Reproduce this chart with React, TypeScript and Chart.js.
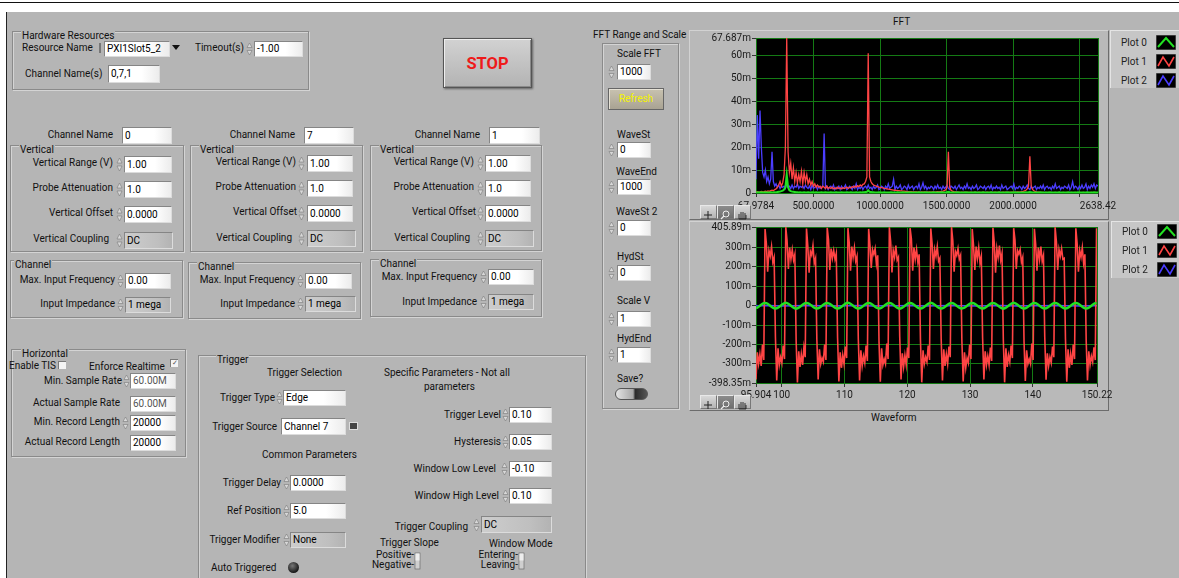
import React, { useEffect, useRef } from 'react';
import { Chart, registerables } from 'chart.js';

Chart.register(...registerables);

// ================= DATA =================
// FFT graph (x: frequency, f0 + i*df ; y: magnitude in milli-units)
const FFT_F0 = 67.9784;
const FFT_DF = 10.0408;
const FFT_X_TICKS = [67.9784, 500, 1000, 1500, 2000, 2500, 2638.42];
const FFT_X_LABELS = ['67.9784', '500.0000', '1000.0000', '1500.0000', '2000.0000', '', '2638.42'];
const FFT_Y_TICKS = [0, 10, 20, 30, 40, 50, 60, 67.687];
const FFT_Y_LABELS = ['0', '10m', '20m', '30m', '40m', '50m', '60m', '67.687m'];

// Plot 0 (green)
const FFT_PLOT0 = [
  0.3, 0.2, 0.3, 0.2, 0.3, 0.2, 0.2, 0.3, 0.2, 0.2,
  0.2, 0.3, 0.2, 0.2, 0.3, 0.2, 0.4, 0.5, 0.6, 0.8,
  1.0, 1.5, 2.5, 8, 2.5, 1.2, 0.8, 0.6, 0.5, 0.4,
  0.3, 0.3, 0.2, 0.3, 0.2, 0.2, 0.3, 0.2, 0.2, 0.3,
  0.2, 0.2, 0.3, 0.2, 0.2, 0.3, 0.2, 0.2, 0.2, 0.3,
  0.2, 0.2, 0.3, 0.2, 0.2, 0.2, 0.3, 0.2, 0.2, 0.2,
  0.3, 0.2, 0.2, 0.2, 0.3, 0.2, 0.2, 0.2, 0.3, 0.2,
  0.2, 0.3, 0.2, 0.2, 0.2, 0.3, 0.2, 0.2, 0.3, 0.2,
  0.3, 0.3, 0.4, 0.5, 1.2, 0.5, 0.4, 0.3, 0.3, 0.2,
  0.2, 0.2, 0.3, 0.2, 0.2, 0.2, 0.3, 0.2, 0.2, 0.2,
  0.2, 0.3, 0.2, 0.2, 0.2, 0.2, 0.3, 0.2, 0.2, 0.2,
  0.3, 0.2, 0.2, 0.2, 0.2, 0.3, 0.2, 0.2, 0.2, 0.2,
  0.2, 0.2, 0.3, 0.2, 0.2, 0.2, 0.2, 0.3, 0.2, 0.2,
  0.2, 0.2, 0.2, 0.3, 0.2, 0.2, 0.2, 0.2, 0.2, 0.3,
  0.2, 0.2, 0.2, 0.3, 0.5, 0.3, 0.2, 0.2, 0.2, 0.2,
  0.2, 0.3, 0.2, 0.2, 0.2, 0.2, 0.2, 0.3, 0.2, 0.2,
  0.2, 0.2, 0.2, 0.2, 0.3, 0.2, 0.2, 0.2, 0.2, 0.2,
  0.3, 0.2, 0.2, 0.2, 0.2, 0.2, 0.3, 0.2, 0.2, 0.2,
  0.2, 0.2, 0.3, 0.2, 0.2, 0.2, 0.2, 0.2, 0.3, 0.2,
  0.2, 0.2, 0.2, 0.2, 0.3, 0.2, 0.2, 0.2, 0.2, 0.2,
  0.2, 0.2, 0.3, 0.2, 0.3, 0.4, 0.3, 0.2, 0.2, 0.2,
  0.2, 0.2, 0.2, 0.3, 0.2, 0.2, 0.2, 0.2, 0.2, 0.2,
  0.3, 0.2, 0.2, 0.2, 0.2, 0.2, 0.2, 0.3, 0.2, 0.2,
  0.2, 0.2, 0.2, 0.2, 0.3, 0.2, 0.2, 0.2, 0.2, 0.2,
  0.2, 0.3, 0.2, 0.2, 0.2, 0.2, 0.2, 0.2, 0.3, 0.2,
  0.2, 0.2, 0.2, 0.3, 0.2, 0.2, 0.2,
];

// Plot 1 (red)
const FFT_PLOT1 = [
  0.5, 0.6, 0.4, 0.5, 0.7, 0.5, 0.6, 0.8, 0.6, 0.9,
  0.7, 1.0, 1.2, 1.0, 1.5, 1.8, 2.5, 3.5, 5, 3,
  4.5, 8, 20, 67.687, 18, 9, 13, 6, 11, 5,
  9, 4.5, 8, 5, 9.5, 4, 9, 5, 8, 4,
  6, 3.5, 5, 3, 4, 2.5, 3.5, 2.5, 3, 2,
  3, 2.5, 2, 3, 2, 2.5, 2, 2.5, 1.8, 2.2,
  1.8, 2.5, 2, 2.2, 1.8, 2.4, 2, 2.2, 2.6, 2,
  2.4, 2.2, 2.8, 2.4, 3, 2.6, 3.2, 2.8, 3.5, 3,
  3.8, 4, 5, 7, 61, 7, 5, 4, 3.5, 3.2,
  3, 2.8, 2.6, 2.5, 2.3, 2.2, 2, 1.9, 1.8, 1.7,
  1.6, 1.5, 1.4, 1.3, 1.2, 1.1, 1.0, 1.0, 0.9, 0.9,
  0.8, 0.8, 0.7, 0.7, 0.6, 0.6, 0.6, 0.5, 0.5, 0.5,
  0.5, 0.4, 0.5, 0.4, 0.5, 0.4, 0.5, 0.4, 0.5, 0.4,
  0.5, 0.4, 0.5, 0.5, 0.4, 0.5, 0.6, 0.5, 0.6, 0.7,
  0.8, 1.0, 1.4, 2.5, 18, 2.5, 1.2, 0.8, 0.6, 0.5,
  0.5, 0.4, 0.4, 0.3, 0.4, 0.3, 0.4, 0.3, 0.4, 0.3,
  0.3, 0.4, 0.3, 0.3, 0.4, 0.3, 0.3, 0.4, 0.3, 0.3,
  0.4, 0.3, 0.3, 0.4, 0.3, 0.3, 0.4, 0.3, 0.3, 0.4,
  0.3, 0.3, 0.4, 0.3, 0.3, 0.4, 0.3, 0.4, 0.3, 0.4,
  0.3, 0.4, 0.4, 0.3, 0.4, 0.4, 0.5, 0.4, 0.5, 0.6,
  0.7, 0.9, 1.2, 1.8, 3, 16, 3, 1.6, 1.0, 0.7,
  0.5, 0.4, 0.4, 0.3, 0.3, 0.3, 0.2, 0.3, 0.2, 0.3,
  0.2, 0.3, 0.2, 0.2, 0.3, 0.2, 0.2, 0.3, 0.2, 0.2,
  0.3, 0.2, 0.2, 0.3, 0.2, 0.2, 0.3, 0.2, 0.2, 0.3,
  0.2, 0.2, 0.3, 0.2, 0.2, 0.3, 0.2, 0.2, 0.3, 0.2,
  0.2, 0.3, 0.2, 0.2, 0.3, 0.2, 0.2,
];

// Plot 2 (blue)
const FFT_PLOT2 = [
  6, 34, 15, 36, 20, 9, 7, 10, 5, 7,
  4, 6, 18, 5, 3, 4, 2.5, 3.5, 2, 3,
  2.5, 3, 2, 4, 2.5, 3, 2, 3.5, 2, 3,
  2.5, 4, 2, 3, 2.5, 3, 2, 3.5, 2.5, 2,
  3, 1.5, 3.5, 2, 2.5, 3, 1.5, 3, 2, 2.5,
  3, 26, 2, 3, 1.5, 2.5, 3, 2, 3.5, 1.5,
  2.5, 2, 3, 1.5, 3, 2, 2.5, 3.5, 1.5, 2,
  3, 2.5, 1.5, 3, 2, 4, 1.5, 2.5, 2, 3,
  1.5, 2.5, 3, 2, 3.5, 2, 2.5, 1.5, 3, 2,
  2.5, 3.5, 1.5, 2, 3, 2.5, 1.5, 3, 2, 4,
  2, 2.5, 3, 6, 1.5, 3, 2, 2.5, 3.5, 1.5,
  2, 3, 2.5, 1.5, 3.5, 2, 2.5, 3, 1.5, 2.5,
  3, 2, 4, 1.5, 2.5, 4.5, 2, 3, 1.5, 2.5,
  2, 3, 2.5, 1.5, 3, 2, 3.5, 2, 2.5, 1.5,
  3, 2, 2.5, 3.5, 2, 1.5, 3, 2.5, 2, 3,
  1.5, 2.5, 3.5, 2, 2.5, 1.5, 3, 2, 4, 2,
  2.5, 1.5, 3, 2, 2.5, 3.5, 1.5, 2, 3, 2.5,
  2, 3, 1.5, 2.5, 3, 2, 3.5, 1.5, 2.5, 2,
  3, 2, 2.5, 1.5, 3.5, 2, 2.5, 3, 1.5, 2,
  2.5, 3, 2, 4, 1.5, 2.5, 2, 3, 2.5, 1.5,
  3, 2, 2.5, 3.5, 2, 1.5, 3, 2, 2.5, 3,
  1.5, 2.5, 2, 3, 2, 3.5, 1.5, 2.5, 3, 2,
  2.5, 1.5, 3, 2, 4, 2, 2.5, 3, 1.5, 2.5,
  2, 3, 2.5, 2, 3.5, 1.5, 2.5, 5, 2, 3,
  2.5, 1.5, 3, 2, 3.5, 2, 2.5, 4, 1.5, 3,
  2, 3.5, 2.5, 4, 2, 3.5, 3,
];

// Waveform graph (x: time, t0 + i*dt ; y in milli-units)
const WAVE_T0 = 95.904;
const WAVE_DT = 0.20625;
const WAVE_BLUE_DT = 2.0625;
const WAVE_X_TICKS = [95.904, 100, 110, 120, 130, 140, 150.22];
const WAVE_X_LABELS = ['95.904', '100', '110', '120', '130', '140', '150.22'];
const WAVE_Y_TICKS = [-398.35, -300, -200, -100, 0, 100, 200, 300, 405.89];
const WAVE_Y_LABELS = ['-398.35m', '-300m', '-200m', '-100m', '0', '100m', '200m', '300m', '405.89m'];

const WAVE_PLOT0 = [
  -13, -10, -5, 0, 5, 10, 13,
  14, 13, 10, 5, 0, -5, -10, -13, -14, -13, -10, -5, 0, 5, 10, 13,
  15, 13, 10, 5, 0, -5, -10, -13, -15, -13, -10, -5, 0, 5, 10, 13,
  14, 13, 10, 5, 1, -5, -10, -13, -14, -13, -10, -5, 0, 5, 10, 13,
  14, 12, 10, 5, 0, -5, -10, -13, -14, -13, -10, -5, 0, 5, 10, 14,
  15, 13, 10, 5, 0, -5, -10, -13, -14, -13, -10, -5, 0, 5, 10, 13,
  14, 13, 10, 5, 0, -5, -10, -12, -14, -13, -10, -5, 0, 5, 10, 13,
  14, 13, 10, 5, 0, -5, -10, -13, -15, -13, -10, -5, 0, 5, 10, 13,
  14, 13, 10, 5, 0, -5, -10, -13, -14, -13, -10, -5, 0, 5, 10, 13,
  15, 13, 10, 5, 0, -5, -10, -13, -14, -13, -10, -5, 0, 5, 10, 13,
  14, 13, 10, 5, 0, -5, -10, -13, -14, -12, -10, -5, 0, 5, 10, 13,
  14, 13, 10, 5, 0, -5, -10, -13, -14, -13, -10, -5, 0, 5, 10, 13,
  14, 13, 10, 5, 0, -5, -10, -13, -15, -13, -10, -5, 0, 5, 10, 13,
  15, 13, 10, 5, 0, -5, -10, -13, -14, -13, -10, -5, 0, 5, 10, 13,
  14, 13, 10, 5, 0, -5, -10, -13, -14, -13, -10, -5, 0, 5, 10, 13,
  14, 13, 10, 5, 0, -5, -10, -13, -14, -13, -10, -5, 0, 5, 10, 13,
  14, 13, 10, 5, 0, -5, -10, -13, -14, -13, -10, -5, 0, 5, 10, 13,
  14,
];

const WAVE_PLOT1 = [
  -380, -240, -300, -250, -310, -200, -280,
  395, 320, 175, 285, 255, 305, 225, 250, -160, -385, -220, -305, -265, -295, -205, -275,
  405, 335, 190, 300, 240, 290, 235, 265, -180, -395, -235, -315, -250, -305, -215, -265,
  398, 310, 170, 280, 260, 310, 220, 245, -175, -380, -225, -300, -270, -290, -200, -280,
  402, 340, 185, 295, 245, 285, 240, 270, -165, -390, -240, -320, -255, -300, -210, -270,
  400, 325, 180, 305, 250, 300, 230, 255, -170, -385, -230, -310, -260, -295, -205, -285,
  396, 315, 195, 290, 265, 295, 215, 260, -185, -392, -220, -305, -275, -300, -195, -275,
  404, 330, 172, 285, 250, 310, 235, 250, -160, -380, -245, -315, -255, -305, -215, -270,
  400, 345, 180, 300, 240, 290, 225, 265, -175, -395, -230, -300, -265, -290, -205, -280,
  398, 320, 190, 290, 255, 305, 230, 245, -170, -385, -225, -310, -250, -300, -210, -265,
  405, 335, 175, 280, 260, 295, 240, 260, -180, -390, -240, -320, -270, -295, -200, -275,
  395, 310, 185, 305, 245, 300, 220, 255, -165, -380, -235, -305, -260, -305, -215, -285,
  402, 325, 170, 295, 250, 310, 235, 270, -175, -395, -220, -315, -255, -290, -205, -270,
  400, 340, 190, 285, 265, 290, 225, 250, -185, -388, -230, -300, -275, -300, -195, -280,
  397, 315, 180, 300, 240, 305, 230, 260, -160, -382, -245, -310, -265, -295, -210, -265,
  404, 330, 185, 290, 255, 295, 240, 245, -170, -392, -225, -320, -250, -305, -200, -275,
  399, 320, 175, 285, 250, 300, 220, 265, -180, -385, -235, -305, -260, -290, -215, -280,
  400,
];

const WAVE_PLOT2 = [0, 1, -1, 0, 1, 0, -1, 0, 1, -1, 0, 0, 1, -1, 0, 1, 0, -1, 0, 1, -1, 0, 0, 1, 0, -1, 0, 1];

// ================= STYLE =================
const FONT = 'Roboto, "Liberation Sans", Arial, sans-serif';
const PANEL = '#b5b5b5';
const GRID = '#147a14';
const GREEN = '#22e022';
const RED = '#ff4444';
const BLUE = '#4b3dff';
const FS = 10;

const plotBackground = {
  id: 'plotBackground',
  beforeDraw(chart: any) {
    const { ctx, chartArea } = chart;
    ctx.save();
    ctx.fillStyle = '#000';
    ctx.fillRect(chartArea.left, chartArea.top, chartArea.right - chartArea.left, chartArea.bottom - chartArea.top);
    ctx.restore();
  },
};

function series(values: number[], x0: number, dx: number) {
  return values.map((v, i) => ({ x: x0 + i * dx, y: v }));
}

function xAxis(ticks: number[], labels: string[], height: number, pad: number) {
  return {
    type: 'linear',
    min: ticks[0],
    max: ticks[ticks.length - 1],
    afterBuildTicks: (s: any) => { s.ticks = ticks.map((v) => ({ value: v })); },
    afterFit: (s: any) => { s.height = height; },
    ticks: {
      autoSkip: false, maxRotation: 0, minRotation: 0, padding: pad, color: '#1a1a1a',
      font: { family: FONT, size: 10 },
      callback: (_v: any, i: number) => labels[i],
    },
    grid: { color: GRID, lineWidth: 1, tickColor: '#333', tickLength: 4 },
    border: { display: false },
  };
}

function yAxis(ticks: number[], labels: string[], width: number) {
  return {
    type: 'linear',
    min: ticks[0],
    max: ticks[ticks.length - 1],
    afterBuildTicks: (s: any) => { s.ticks = ticks.map((v) => ({ value: v })); },
    afterFit: (s: any) => { s.width = width; },
    ticks: {
      autoSkip: false, padding: 1, color: '#1a1a1a',
      font: { family: FONT, size: 10 },
      callback: (_v: any, i: number) => labels[i],
    },
    grid: { color: GRID, lineWidth: 1, tickColor: '#333', tickLength: 4 },
    border: { display: false },
  };
}

function lineDs(data: any[], color: string, width: number) {
  return { data, borderColor: color, borderWidth: width, pointRadius: 0, tension: 0, fill: false };
}

function baseOptions(padding: any, scales: any) {
  return {
    animation: false,
    responsive: false,
    devicePixelRatio: 1,
    events: [],
    layout: { padding },
    plugins: { legend: { display: false }, tooltip: { enabled: false } },
    scales,
  };
}

function ChartCanvas({ left, top, width, height, config }: any) {
  const ref = useRef<HTMLCanvasElement>(null);
  useEffect(() => {
    const chart = new Chart(ref.current as HTMLCanvasElement, config);
    return () => chart.destroy();
  }, []);
  return (
    <canvas ref={ref} width={width} height={height}
      style={{ position: 'absolute', left, top, width, height, zIndex: 2 }} />
  );
}

// ================= PANEL PARTS =================
const Txt = ({ x, xr, y, t, c = '#111', s = FS, w = 400, lh = 14, z = 1 }: any) => (
  <div style={{
    position: 'absolute', left: x, right: xr !== undefined ? 1179 - xr : undefined, top: y - lh / 2,
    height: lh, lineHeight: `${lh}px`, fontSize: s, color: c, fontWeight: w, whiteSpace: 'nowrap',
    fontFamily: FONT, zIndex: z, textAlign: xr !== undefined ? 'right' : 'left',
  }}>{t}</div>
);

const Spin = ({ x, y, h = 16 }: any) => (
  <svg style={{ position: 'absolute', left: x, top: y }} width={7} height={h}>
    <path d={`M1 ${h / 2 - 1.5} L3.5 2 L6 ${h / 2 - 1.5} Z`} fill="#d8d8d8" stroke="#7a7a7a" strokeWidth={0.6} />
    <path d={`M1 ${h / 2 + 1.5} L3.5 ${h - 2} L6 ${h / 2 + 1.5} Z`} fill="#d8d8d8" stroke="#7a7a7a" strokeWidth={0.6} />
  </svg>
);

const Box = ({ x, y, w = 48, h = 16, t, c = '#000', gray = false }: any) => (
  <div style={{
    position: 'absolute', left: x, top: y, width: w, height: h, boxSizing: 'border-box',
    background: gray ? 'linear-gradient(90deg,#cdcdcd,#bfbfbf 70%,#b3b3b3)' : 'linear-gradient(90deg,#ffffff 65%,#ececec)',
    borderTop: '1px solid #858585', borderLeft: '1px solid #858585',
    borderRight: '1px solid #dcdcdc', borderBottom: '1px solid #dcdcdc',
    fontSize: FS, lineHeight: `${h - 2}px`, paddingLeft: 2, color: c, whiteSpace: 'nowrap',
    overflow: 'hidden', fontFamily: FONT,
  }}>{t}</div>
);

const Frame = ({ x, y, w, h, label, lx = 9 }: any) => (
  <>
    <div style={{
      position: 'absolute', left: x, top: y, width: w, height: h, boxSizing: 'border-box',
      border: '1px solid #8a8a8a', boxShadow: 'inset 1px 1px 0 #d4d4d4, 1px 1px 0 #d4d4d4',
    }} />
    {label ? (
      <div style={{
        position: 'absolute', left: x + lx, top: y - 2, height: 13, lineHeight: '13px', fontSize: FS,
        color: '#111', background: PANEL, padding: '0 1px', fontFamily: FONT, whiteSpace: 'nowrap',
      }}>{label}</div>
    ) : null}
  </>
);

const Check = ({ x, y, on = false }: any) => (
  <div style={{
    position: 'absolute', left: x, top: y, width: 8, height: 8, boxSizing: 'border-box',
    background: '#f4f4f4', borderTop: '1px solid #7a7a7a', borderLeft: '1px solid #7a7a7a',
    fontSize: 7, lineHeight: '7px', color: '#555', textAlign: 'center', zIndex: 3,
  }}>{on ? '✓' : ''}</div>
);

const Switch = ({ x, y }: any) => (
  <svg style={{ position: 'absolute', left: x, top: y }} width={7} height={18}>
    <rect x={1} y={1} width={5} height={16} fill="#cfcfcf" stroke="#6a6a6a" strokeWidth={0.7} />
    <rect x={1.5} y={1.5} width={4} height={7} fill="#eeeeee" />
  </svg>
);

const Icon = ({ color, kind }: any) => (
  <svg width={20} height={15} style={{ display: 'block' }}>
    <rect x={0} y={0} width={20} height={15} fill="#000" stroke="#777" strokeWidth={1} />
    {kind === 0
      ? <polyline points="2,12 10,3 18,12" fill="none" stroke={color} strokeWidth={2} />
      : <polyline points="2,12 7,3 13,12 18,3" fill="none" stroke={color} strokeWidth={1.6} />}
  </svg>
);

const PlotLegend = ({ x, y, w, h, rows }: any) => (
  <div style={{
    position: 'absolute', left: x, top: y, width: w, height: h, background: '#c6c6c6', zIndex: 3,
    borderTop: '1px solid #e4e4e4', borderLeft: '1px solid #e4e4e4', boxSizing: 'border-box',
  }}>
    {[['Plot 0', GREEN, 0], ['Plot 1', RED, 1], ['Plot 2', BLUE, 2]].map((r: any, i: number) => (
      <div key={i} style={{ position: 'absolute', left: 0, top: rows[i], width: w, height: 15 }}>
        <div style={{ position: 'absolute', left: 10, top: 0, lineHeight: '15px', fontSize: FS, color: '#222', fontFamily: FONT }}>{r[0]}</div>
        <div style={{ position: 'absolute', left: 45, top: 0 }}><Icon color={r[1]} kind={r[2]} /></div>
      </div>
    ))}
  </div>
);

const palBtn = (bg: string) => ({
  width: 17, height: 14, boxSizing: 'border-box' as const, background: bg,
  borderTop: '1px solid #e8e8e8', borderLeft: '1px solid #e8e8e8', borderRight: '1px solid #777', borderBottom: '1px solid #777',
});

const Palette = ({ x, y }: any) => (
  <div style={{ position: 'absolute', left: x, top: y, display: 'flex', zIndex: 3, background: PANEL }}>
    <div style={palBtn('linear-gradient(#d8d8d8,#b4b4b4)')}>
      <svg width={15} height={12}><path d="M7 2 V10 M3 6 H11" stroke="#222" strokeWidth={1} /></svg>
    </div>
    <div style={palBtn('linear-gradient(#8c8c8c,#6e6e6e)')}>
      <svg width={15} height={12}><circle cx={8} cy={5} r={3} fill="none" stroke="#eee" strokeWidth={1} /><path d="M6 7 L3 10" stroke="#eee" strokeWidth={1.2} /></svg>
    </div>
    <div style={palBtn('linear-gradient(#d8d8d8,#b4b4b4)')}>
      <svg width={15} height={12}><path d="M4 10 V5 M6 10 V3 M8 10 V3 M10 10 V4 M4 10 H11 V6" stroke="#222" strokeWidth={0.9} fill="none" /></svg>
    </div>
  </div>
);

// ================= CHART CONFIGS =================
const fftConfig: any = {
  type: 'line',
  data: {
    datasets: [
      lineDs(series(FFT_PLOT0, FFT_F0, FFT_DF), GREEN, 2),
      lineDs(series(FFT_PLOT1, FFT_F0, FFT_DF), RED, 1.3),
      lineDs(series(FFT_PLOT2, FFT_F0, FFT_DF), BLUE, 1.3),
    ],
  },
  options: baseOptions({ left: 0, top: 10, right: 30, bottom: 0 }, {
    x: xAxis(FFT_X_TICKS, FFT_X_LABELS, 21, 3),
    y: yAxis(FFT_Y_TICKS, FFT_Y_LABELS, 68),
  }),
  plugins: [plotBackground],
};

const waveConfig: any = {
  type: 'line',
  data: {
    datasets: [
      lineDs(series(WAVE_PLOT0, WAVE_T0, WAVE_DT), GREEN, 2.4),
      lineDs(series(WAVE_PLOT1, WAVE_T0, WAVE_DT), RED, 1.6),
      lineDs(series(WAVE_PLOT2, WAVE_T0, WAVE_BLUE_DT), BLUE, 1.5),
    ],
  },
  options: baseOptions({ left: 0, top: 9, right: 31, bottom: 0 }, {
    x: xAxis(WAVE_X_TICKS, WAVE_X_LABELS, 19, 2),
    y: yAxis(WAVE_Y_TICKS, WAVE_Y_LABELS, 68),
  }),
  plugins: [plotBackground],
};

// ================= APP =================
export default function App() {
  return (
    <div style={{ position: 'absolute', left: 0, top: 0, width: 1179, height: 578, overflow: 'hidden', background: '#fff', fontFamily: FONT }}>
      <div style={{ position: 'absolute', left: 0, top: 2, width: 1179, height: 1, background: '#111' }} />
      <div style={{ position: 'absolute', left: 6, top: 12, width: 1, height: 566, background: '#222' }} />
      <div style={{ position: 'absolute', left: 7, top: 12, width: 1172, height: 566, background: PANEL }} />

      {/* Hardware resources */}
      <Frame x={12} y={31} w={297} h={59} label="Hardware Resources" />
      <Txt x={22} y={48} t="Resource Name" />
      <div style={{ position: 'absolute', left: 99, top: 43, width: 2, height: 10, background: '#777' }} />
      <Box x={104} y={41} w={66} h={16} t="PXI1Slot5_2" />
      <svg style={{ position: 'absolute', left: 172, top: 45 }} width={9} height={6}><path d="M0 0 H8 L4 5 Z" fill="#111" /></svg>
      <Txt xr={244} y={48} t="Timeout(s)" />
      <Spin x={246} y={41} />
      <Box x={254} y={41} w={49} h={16} t="-1.00" />
      <Txt x={25} y={74} t="Channel Name(s)" />
      <Box x={108} y={65} w={52} h={18} t="0,7,1" />

      {/* STOP */}
      <div style={{
        position: 'absolute', left: 443, top: 38, width: 89, height: 50, boxSizing: 'border-box',
        background: 'linear-gradient(#d2d2d2,#b3b3b3)', border: '1px solid #555',
        boxShadow: 'inset 1px 1px 0 #eee, inset -1px -1px 0 #8a8a8a, 1px 1px 2px rgba(0,0,0,0.45)',
        display: 'flex', alignItems: 'center', justifyContent: 'center',
        color: '#ee1a1a', fontWeight: 700, fontSize: 16.5, fontFamily: FONT,
      }}>STOP</div>

      {/* Column 1 */}
      <Txt xr={113} y={135} t="Channel Name" />
      <Box x={122} y={127} w={50} h={17} t="0" />
      <Frame x={10} y={145} w={174} h={107} label="Vertical" />
      <Txt xr={113} y={163} t="Vertical Range (V)" />
      <Spin x={116} y={156} h={17} />
      <Box x={124} y={156} w={48} h={17} t="1.00" />
      <Txt xr={113} y={188} t="Probe Attenuation" />
      <Spin x={116} y={181} h={17} />
      <Box x={124} y={181} w={48} h={17} t="1.0" />
      <Txt xr={113} y={213} t="Vertical Offset" />
      <Spin x={116} y={206} h={17} />
      <Box x={124} y={206} w={48} h={17} t="0.0000" />
      <Txt xr={109} y={239} t="Vertical Coupling" />
      <Spin x={116} y={232} h={17} />
      <Box x={124} y={232} w={49} h={17} t="DC" gray />
      <Frame x={10} y={260} w={173} h={58} label="Channel" lx={4} />
      <Txt xr={115} y={280} t="Max. Input Frequency" />
      <Spin x={117} y={273} />
      <Box x={125} y={273} w={46} h={16} t="0.00" />
      <Txt xr={115} y={304} t="Input Impedance" />
      <Spin x={117} y={297} />
      <Box x={125} y={297} w={46} h={16} t="1 mega" gray />

      {/* Column 2 */}
      <Txt xr={295} y={135} t="Channel Name" />
      <Box x={304} y={127} w={50} h={17} t="7" />
      <Frame x={190} y={145} w={173} h={107} label="Vertical" />
      <Txt xr={296} y={162} t="Vertical Range (V)" />
      <Spin x={298} y={155} h={17} />
      <Box x={307} y={155} w={46} h={17} t="1.00" />
      <Txt xr={296} y={187} t="Probe Attenuation" />
      <Spin x={298} y={180} h={17} />
      <Box x={307} y={180} w={46} h={17} t="1.0" />
      <Txt xr={297} y={212} t="Vertical Offset" />
      <Spin x={298} y={205} h={17} />
      <Box x={307} y={205} w={46} h={17} t="0.0000" />
      <Txt xr={292} y={238} t="Vertical Coupling" />
      <Spin x={298} y={230} h={17} />
      <Box x={307} y={230} w={49} h={17} t="DC" gray />
      <Frame x={188} y={262} w={173} h={57} label="Channel" />
      <Txt xr={295} y={280} t="Max. Input Frequency" />
      <Spin x={297} y={273} />
      <Box x={305} y={273} w={47} h={16} t="0.00" />
      <Txt xr={295} y={304} t="Input Impedance" />
      <Spin x={297} y={296} />
      <Box x={305} y={296} w={51} h={16} t="1 mega" gray />

      {/* Column 3 */}
      <Txt xr={480} y={135} t="Channel Name" />
      <Box x={489} y={127} w={51} h={17} t="1" />
      <Frame x={370} y={145} w={172} h={106} label="Vertical" />
      <Txt xr={474} y={162} t="Vertical Range (V)" />
      <Spin x={477} y={155} h={17} />
      <Box x={485} y={155} w={46} h={17} t="1.00" />
      <Txt xr={474} y={187} t="Probe Attenuation" />
      <Spin x={477} y={180} h={17} />
      <Box x={485} y={180} w={46} h={17} t="1.0" />
      <Txt xr={476} y={212} t="Vertical Offset" />
      <Spin x={477} y={205} h={17} />
      <Box x={485} y={205} w={46} h={17} t="0.0000" />
      <Txt xr={470} y={238} t="Vertical Coupling" />
      <Spin x={477} y={230} h={17} />
      <Box x={485} y={230} w={49} h={17} t="DC" gray />
      <Frame x={370} y={259} w={172} h={58} label="Channel" />
      <Txt xr={477} y={277} t="Max. Input Frequency" />
      <Spin x={480} y={269} />
      <Box x={488} y={269} w={46} h={16} t="0.00" />
      <Txt xr={477} y={302} t="Input Impedance" />
      <Spin x={480} y={294} />
      <Box x={488} y={294} w={46} h={16} t="1 mega" gray />

      {/* Horizontal */}
      <Frame x={11} y={349} w={175} h={108} label="Horizontal" lx={10} />
      <Txt x={9} y={366} t="Enable TIS" z={2} />
      <Check x={58} y={361} />
      <Txt x={89} y={367} t="Enforce Realtime" />
      <Check x={170} y={359} on />
      <Txt xr={122} y={381} t="Min. Sample Rate" />
      <Spin x={123} y={373} />
      <Box x={130} y={373} w={46} h={16} t="60.00M" c="#555" />
      <Txt xr={120} y={403} t="Actual Sample Rate" />
      <Box x={130} y={396} w={46} h={16} t="60.00M" c="#555" />
      <Txt xr={120} y={422} t="Min. Record Length" />
      <Spin x={122} y={415} />
      <Box x={130} y={415} w={46} h={16} t="20000" />
      <Txt xr={120} y={442} t="Actual Record Length" />
      <Box x={130} y={435} w={46} h={16} t="20000" />

      {/* Trigger */}
      <Frame x={198} y={355} w={388} h={240} label="Trigger" lx={18} />
      <Txt x={267} y={373} t="Trigger Selection" />
      <Txt x={384} y={373} t="Specific Parameters - Not all" />
      <Txt x={424} y={387} t="parameters" />
      <Txt xr={275} y={398} t="Trigger Type" />
      <Spin x={276} y={390} />
      <Box x={283} y={390} w={63} h={16} t="Edge" />
      <Txt xr={277} y={427} t="Trigger Source" />
      <Box x={281} y={418} w={65} h={17} t="Channel 7" />
      <div style={{ position: 'absolute', left: 349, top: 422, width: 7, height: 6, background: '#444', border: '1px solid #ddd' }} />
      <Txt x={262} y={455} t="Common Parameters" />
      <Txt xr={501} y={415} t="Trigger Level" />
      <Spin x={502} y={407} />
      <Box x={509} y={407} w={43} h={16} t="0.10" />
      <Txt xr={501} y={442} t="Hysteresis" />
      <Spin x={502} y={434} />
      <Box x={509} y={434} w={43} h={16} t="0.05" />
      <Txt xr={496} y={469} t="Window Low Level" />
      <Spin x={501} y={461} />
      <Box x={509} y={461} w={43} h={16} t="-0.10" />
      <Txt xr={499} y={496} t="Window High Level" />
      <Spin x={502} y={488} />
      <Box x={509} y={488} w={43} h={16} t="0.10" />
      <Txt xr={281} y={483} t="Trigger Delay" />
      <Spin x={283} y={475} />
      <Box x={290} y={475} w={56} h={16} t="0.0000" />
      <Txt xr={281} y={511} t="Ref Position" />
      <Spin x={283} y={503} />
      <Box x={290} y={503} w={56} h={16} t="5.0" />
      <Txt xr={468} y={527} t="Trigger Coupling" />
      <Spin x={473} y={517} />
      <Box x={481} y={516} w={71} h={17} t="DC" gray />
      <Txt xr={280} y={540} t="Trigger Modifier" />
      <Spin x={283} y={532} />
      <Box x={290} y={532} w={56} h={16} t="None" gray />
      <Txt x={380} y={543} t="Trigger Slope" />
      <Txt x={489} y={544} t="Window Mode" />
      <Txt xr={414} y={555} t="Positive-" lh={10} />
      <Txt xr={414} y={565} t="Negative-" lh={10} />
      <Switch x={414} y={552} />
      <Txt xr={518} y={555} t="Entering-" lh={10} />
      <Txt xr={518} y={565} t="Leaving-" lh={10} />
      <Switch x={518} y={552} />
      <Txt x={211} y={568} t="Auto Triggered" />
      <div style={{ position: 'absolute', left: 288, top: 562, width: 11, height: 11, borderRadius: 6, background: 'radial-gradient(circle at 40% 35%, #777, #1a1a1a 70%)' }} />

      {/* FFT Range and Scale */}
      <Txt x={593} y={35} t="FFT Range and Scale" />
      <Frame x={602} y={43} w={77} h={366} />
      <Txt x={617} y={54} t="Scale FFT" />
      <Spin x={608} y={64} />
      <Box x={617} y={64} w={34} h={16} t="1000" />
      <div style={{
        position: 'absolute', left: 608, top: 88, width: 56, height: 22, boxSizing: 'border-box',
        background: 'linear-gradient(#c8c2b0,#a9a393)', border: '1px solid #666',
        boxShadow: 'inset 1px 1px 0 #e6e2d6', color: '#f4f400', fontSize: FS, lineHeight: '20px', textAlign: 'center', fontFamily: FONT,
      }}>Refresh</div>
      <Txt x={617} y={135} t="WaveSt" />
      <Spin x={608} y={142} />
      <Box x={617} y={142} w={34} h={16} t="0" />
      <Txt x={616} y={172} t="WaveEnd" />
      <Spin x={608} y={179} />
      <Box x={617} y={179} w={34} h={16} t="1000" />
      <Txt x={616} y={212} t="WaveSt 2" />
      <Spin x={608} y={220} />
      <Box x={617} y={220} w={34} h={16} t="0" />
      <Txt x={617} y={257} t="HydSt" />
      <Spin x={608} y={265} />
      <Box x={617} y={265} w={34} h={16} t="0" />
      <Txt x={617} y={301} t="Scale V" />
      <Spin x={608} y={311} />
      <Box x={617} y={311} w={34} h={16} t="1" />
      <Txt x={617} y={339} t="HydEnd" />
      <Spin x={608} y={347} />
      <Box x={617} y={347} w={34} h={16} t="1" />
      <Txt x={617} y={379} t="Save?" />
      <div style={{
        position: 'absolute', left: 615, top: 388, width: 33, height: 12, borderRadius: 6, boxSizing: 'border-box',
        border: '1px solid #555', background: 'linear-gradient(90deg,#e4e4e4,#a8a8a8 55%,#2a2a2a 62%,#555)',
      }} />

      {/* FFT graph */}
      <Txt x={893} y={22} t="FFT" />
      <div style={{
        position: 'absolute', left: 689, top: 30, width: 420, height: 190, boxSizing: 'border-box', background: '#b9b9b9',
        borderTop: '1px solid #d2d2d2', borderLeft: '1px solid #d2d2d2', borderRight: '1px solid #6c6c6c', borderBottom: '1px solid #6c6c6c',
      }} />
      <ChartCanvas left={688} top={28} width={440} height={186} config={fftConfig} />
      <PlotLegend x={1110} y={30} w={69} h={58} rows={[4, 23, 42]} />
      <Palette x={700} y={205} />

      {/* Waveform graph */}
      <div style={{
        position: 'absolute', left: 689, top: 221, width: 420, height: 190, boxSizing: 'border-box', background: '#b9b9b9',
        borderTop: '1px solid #d2d2d2', borderLeft: '1px solid #d2d2d2', borderRight: '1px solid #6c6c6c', borderBottom: '1px solid #6c6c6c',
      }} />
      <ChartCanvas left={688} top={218} width={440} height={184} config={waveConfig} />
      <PlotLegend x={1111} y={221} w={68} h={57} rows={[2, 21, 40]} />
      <Palette x={700} y={395} />
      <Txt x={871} y={418} t="Waveform" />
    </div>
  );
}
